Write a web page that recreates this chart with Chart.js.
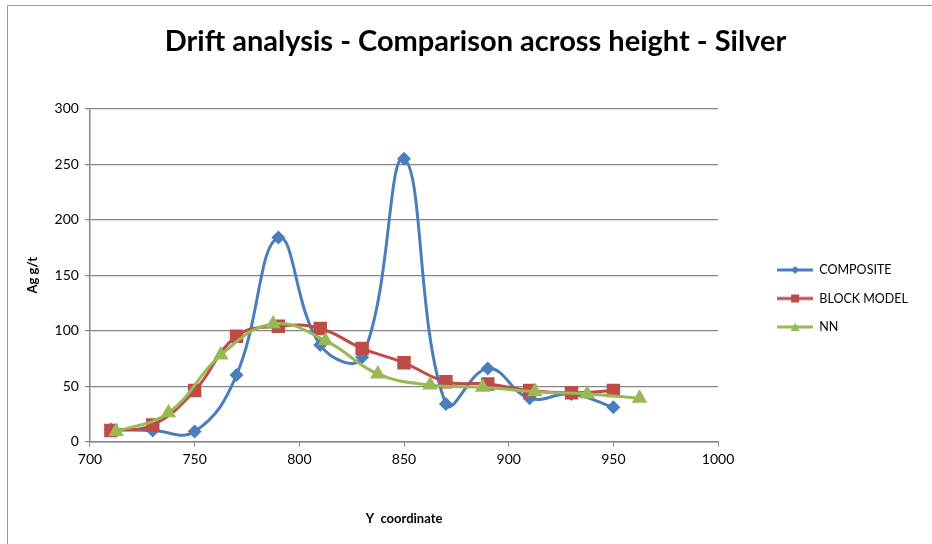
<!DOCTYPE html>
<html>
<head>
<meta charset="utf-8">
<script src="https://cdn.jsdelivr.net/npm/chart.js@4/dist/chart.umd.min.js"></script>
<style>
  html, body { margin: 0; padding: 0; background: #fff; }
  #wrap { position: relative; width: 932px; height: 544px; overflow: hidden; }
  #frame { position: absolute; left: 7px; top: 5px; width: 1000px; height: 1000px;
           border: 1px solid #9b9b9b; box-sizing: border-box; pointer-events: none; }
  canvas { position: absolute; left: 0; top: 0; }
</style>
</head>
<body>
<div id="wrap">
  <canvas id="chart" width="932" height="544"></canvas>
  <div id="frame"></div>
</div>
<script>
// Y coordinate positions of each sample series
const compositeY = [710, 730, 750, 770, 790, 810, 830, 850, 870, 890, 910, 930, 950];
const compositeAg = [11, 10, 9, 60, 184, 87, 76, 255, 34, 66, 39, 43, 31];

const blockY = [710, 730, 750, 770, 790, 810, 830, 850, 870, 890, 910, 930, 950];
const blockAg = [10, 15, 46, 95, 104, 102, 84, 71, 54, 52, 46, 44, 46];

const nnY = [712.5, 737.5, 762.5, 787.5, 812.5, 837.5, 862.5, 887.5, 912.5, 937.5, 962.5];
const nnAg = [9, 26, 78, 106, 91, 61, 51, 49, 45, 43, 39];

const xTicks = [700, 750, 800, 850, 900, 950, 1000];
const yTicks = [0, 50, 100, 150, 200, 250, 300];

const seriesNames = ['COMPOSITE', 'BLOCK MODEL', 'NN'];
const seriesColors = ['#4A7EBB', '#BE4B48', '#98B954'];
const seriesMarkers = ['rectRot', 'rect', 'triangle'];
const markerRadius = [7, 9.5, 9];

const FONT = 'Lato, "Open Sans", "DejaVu Sans", sans-serif';

function toPoints(xs, ys) {
  return xs.map((x, i) => ({ x: x, y: ys[i] }));
}

// Legend sample: a short line with the series marker in its middle
function legendSample(color, marker) {
  const c = document.createElement('canvas');
  c.width = 36; c.height = 12;
  const g = c.getContext('2d');
  g.strokeStyle = color; g.fillStyle = color; g.lineWidth = 3;
  g.beginPath(); g.moveTo(0, 6); g.lineTo(36, 6); g.stroke();
  g.beginPath();
  if (marker === 'rectRot') {
    g.moveTo(18, 2); g.lineTo(22, 6); g.lineTo(18, 10); g.lineTo(14, 6); g.closePath();
  } else if (marker === 'rect') {
    g.rect(14, 2, 8, 8);
  } else {
    g.moveTo(18, 1.5); g.lineTo(22.5, 10); g.lineTo(13.5, 10); g.closePath();
  }
  g.fill();
  return c;
}
const legendImages = seriesColors.map((c, i) => legendSample(c, seriesMarkers[i]));

// Later series are painted over earlier ones
function makeDataset(i, pts) {
  return {
    label: seriesNames[i],
    data: pts,
    order: seriesNames.length - i,
    borderColor: seriesColors[i],
    backgroundColor: seriesColors[i],
    borderWidth: 3,
    pointStyle: seriesMarkers[i],
    pointRadius: markerRadius[i],
    pointHoverRadius: markerRadius[i],
    pointBorderWidth: 0,
    tension: 0.42,
    fill: false
  };
}

// Places the title over the whole frame and moves the legend clear of the plot
const boxShift = {
  id: 'boxShift',
  afterLayout(chart) {
    const lg = chart.legend;
    if (lg) {
      lg.left += 43; lg.right += 43;
      lg.top += 30; lg.bottom += 30;
    }
    const tt = chart.titleBlock;
    if (tt) {
      const dx = 475.5 - (tt.left + tt.right) / 2;
      tt.left += dx; tt.right += dx;
    }
  }
};

new Chart(document.getElementById('chart'), {
  type: 'line',
  data: {
    datasets: [
      makeDataset(0, toPoints(compositeY, compositeAg)),
      makeDataset(1, toPoints(blockY, blockAg)),
      makeDataset(2, toPoints(nnY, nnAg))
    ]
  },
  plugins: [boxShift],
  options: {
    responsive: false,
    animation: false,
    layout: { padding: { left: 23, right: 57, top: 10, bottom: 17 } },
    plugins: {
      title: {
        display: true,
        text: 'Drift analysis - Comparison across height - Silver',
        color: '#000',
        font: { family: FONT, size: 29, weight: 'bold' },
        padding: { top: 14, bottom: 50 }
      },
      legend: {
        position: 'right',
        align: 'center',
        labels: {
          usePointStyle: true,
          pointStyleWidth: 36,
          boxHeight: 12,
          padding: 16,
          color: '#000',
          font: { family: FONT, size: 12.5 },
          generateLabels(chart) {
            const items = Chart.defaults.plugins.legend.labels.generateLabels(chart);
            items.sort((a, b) => a.datasetIndex - b.datasetIndex);
            items.forEach(it => { it.pointStyle = legendImages[it.datasetIndex]; });
            return items;
          }
        }
      },
      tooltip: { enabled: false }
    },
    scales: {
      x: {
        type: 'linear',
        min: 700, max: 1000,
        afterBuildTicks(axis) { axis.ticks = xTicks.map(v => ({ value: v })); },
        border: { color: '#868686', width: 1.5 },
        grid: { drawOnChartArea: false, drawTicks: true, tickLength: 5, color: '#868686' },
        ticks: { color: '#000', padding: 4, font: { family: FONT, size: 14 },
                 callback: v => String(v) },
        title: {
          display: true, text: 'Y  coordinate', color: '#000',
          font: { family: FONT, size: 13, weight: 'bold' },
          padding: { top: 40, bottom: 0 }
        }
      },
      y: {
        type: 'linear',
        min: 0, max: 300,
        afterBuildTicks(axis) { axis.ticks = yTicks.map(v => ({ value: v })); },
        border: { color: '#868686', width: 1.5 },
        grid: { color: '#868686', lineWidth: 1.2, drawTicks: true, tickLength: 5 },
        ticks: { color: '#000', padding: 6, font: { family: FONT, size: 14 },
                 callback: v => String(v) },
        title: {
          display: true, text: 'Ag g/t', color: '#000',
          font: { family: FONT, size: 13, weight: 'bold' },
          padding: { top: 2, bottom: 8 }
        }
      }
    }
  }
});
</script>
</body>
</html>
